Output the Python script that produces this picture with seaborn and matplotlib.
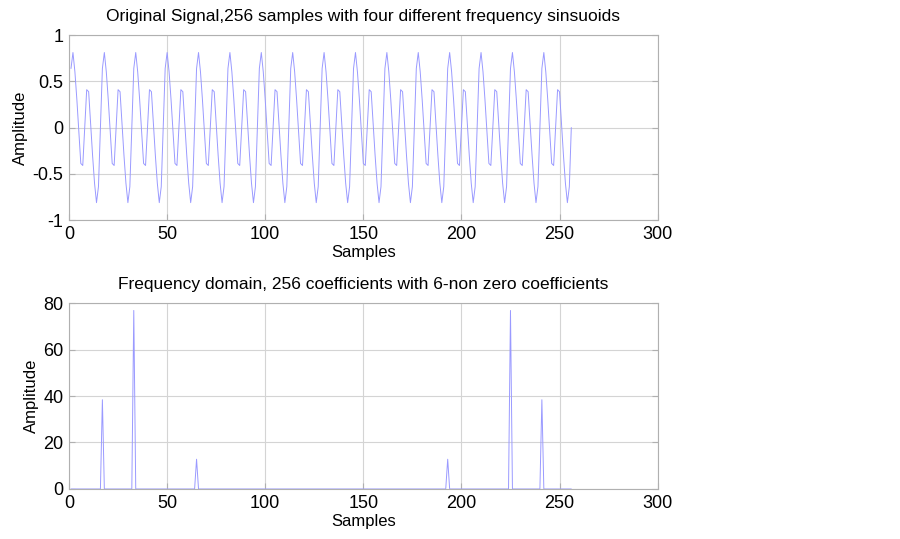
import matplotlib
matplotlib.use('agg')
import numpy as np
import pandas as pd
import matplotlib.pyplot as plt
import seaborn as sns

sns.set_style('white')
plt.rcParams['font.family'] = ['Liberation Sans', 'DejaVu Sans']
plt.rcParams['text.color'] = 'black'
plt.rcParams['axes.labelcolor'] = 'black'
plt.rcParams['xtick.color'] = 'black'
plt.rcParams['ytick.color'] = 'black'

# one period (16 samples) of the time signal
period = [0.639, 0.812, 0.602, 0.300, -0.047, -0.388, -0.410, 0.000,
          0.410, 0.388, 0.047, -0.300, -0.602, -0.812, -0.639, 0.000]
n_periods = 16
signal = period * n_periods
samples = list(range(1, len(signal) + 1))

# spikes of the magnitude spectrum (sample index, height)
spike_idx = [17, 33, 65, 193, 225, 241]
spike_amp = [38.4, 76.8, 12.8, 12.8, 76.8, 38.4]

spectrum = np.zeros(len(samples))
for i, a in zip(spike_idx, spike_amp):
    spectrum[i - 1] = a

df_t = pd.DataFrame({'Samples': samples, 'Amplitude': signal})
df_f = pd.DataFrame({'Samples': samples, 'Amplitude': spectrum})

fig = plt.figure(figsize=(9, 5.39), dpi=100)
ax1 = fig.add_axes([0.0767, 0.5918, 0.654, 0.343])
ax2 = fig.add_axes([0.0767, 0.0928, 0.654, 0.345])

line_color = '#9a9aff'
sns.lineplot(data=df_t, x='Samples', y='Amplitude', ax=ax1, color=line_color, lw=0.7)
sns.lineplot(data=df_f, x='Samples', y='Amplitude', ax=ax2, color=line_color, lw=0.7)

ax1.set_xlim(0, 300)
ax1.set_ylim(-1, 1)
ax1.set_yticks([-1, -0.5, 0, 0.5, 1])
ax1.set_yticklabels(['-1', '-0.5', '0', '0.5', '1'])
ax1.set_title('Original Signal,256 samples with four different frequency sinsuoids',
              fontsize=12.5, pad=10, color='black')

ax2.set_xlim(0, 300)
ax2.set_ylim(0, 80)
ax2.set_yticks([0, 20, 40, 60, 80])
ax2.set_title('Frequency domain, 256 coefficients with 6-non zero coefficients',
              fontsize=12.5, pad=10, color='black')

for ax in (ax1, ax2):
    ax.set_xticks([0, 50, 100, 150, 200, 250, 300])
    ax.grid(True, color='#d4d4d4', lw=0.8)
    ax.set_axisbelow(True)
    for s in ax.spines.values():
        s.set_color('#b0b0b0')
        s.set_linewidth(0.8)
    ax.tick_params(axis='both', direction='in', length=4, color='#b0b0b0',
                   labelcolor='black', labelsize=13, pad=4,
                   right=True, top=False, bottom=True, left=True)
    ax.set_xlabel('Samples', fontsize=12, labelpad=1.5)
    ax.set_ylabel('Amplitude', fontsize=12, labelpad=3)

fig.savefig('out.png', dpi=100)
